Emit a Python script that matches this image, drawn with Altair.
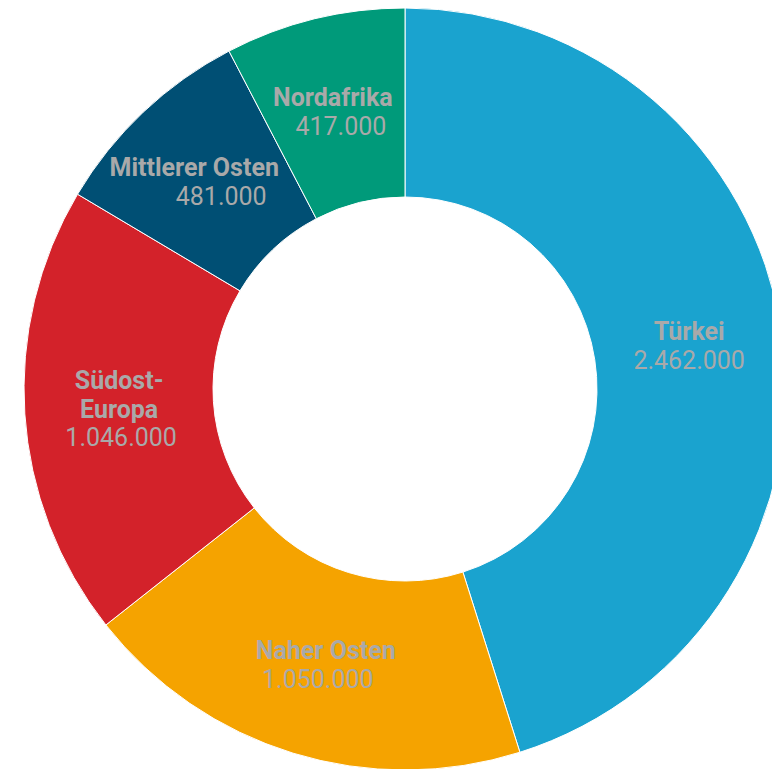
import altair as alt
import pandas as pd

categories = ["Türkei", "Naher Osten", "Südost-Europa", "Mittlerer Osten", "Nordafrika"]
values = [2462000, 1050000, 1046000, 481000, 417000]
value_labels = ["2.462.000", "1.050.000", "1.046.000", "481.000", "417.000"]
name_line1 = ["Türkei", "Naher Osten", "Südost-", "Mittlerer Osten", "Nordafrika"]
name_line2 = ["", "", "Europa", "", ""]
colors = ["#1aa3cf", "#f5a300", "#d3222a", "#004f74", "#009a7a"]

df = pd.DataFrame({
    "category": categories,
    "value": values,
    "order": list(range(len(categories))),
    "vlabel": value_labels,
    "n1": name_line1,
    "n2": name_line2,
})

# label line offsets (style): per category, (field, bold, dx, dy)
offsets = {
    "Türkei": [("n1", True, 1, -13), ("vlabel", False, 1, 16)],
    "Naher Osten": [("n1", True, 5, -12), ("vlabel", False, -3, 17)],
    "Südost-Europa": [("n1", True, 0, -27), ("n2", True, 0, 2), ("vlabel", False, 2, 30)],
    "Mittlerer Osten": [("n1", True, -14, -13), ("vlabel", False, 13, 16)],
    "Nordafrika": [("n1", True, -4, -13), ("vlabel", False, 4, 16)],
}

CX, CY = 405, 389
R_OUT, R_IN = 381, 192
R_LAB = (R_OUT + R_IN) / 2

base = alt.Chart(df)

arcs = base.mark_arc(
    radius=R_OUT, radius2=R_IN, stroke="white", strokeWidth=1
).encode(
    theta=alt.Theta("value:Q", stack=True),
    order=alt.Order("order:Q"),
    color=alt.Color("category:N", scale=alt.Scale(domain=categories, range=colors), legend=None),
    x=alt.value(CX),
    y=alt.value(CY),
)

layers = [arcs]
for cat, lines in offsets.items():
    for field, bold, dx, dy in lines:
        t = base.transform_calculate(
            lab=f"datum.category === '{cat}' ? datum.{field} : ''"
        ).mark_text(
            radius=R_LAB, font="Roboto", fontSize=25,
            fontWeight="bold" if bold else "normal",
            color="#a9a9a9", dx=dx, dy=dy, align="center", baseline="middle",
        ).encode(
            theta=alt.Theta("value:Q", stack=True),
            order=alt.Order("order:Q"),
            text="lab:N",
            x=alt.value(CX),
            y=alt.value(CY),
        )
        layers.append(t)

chart = alt.layer(*layers).properties(
    width=772, height=769, padding=0, autosize=alt.AutoSizeParams(type="none")
).configure_view(stroke=None)

chart.save("out.html", embed_options={"renderer": "svg", "actions": False})
